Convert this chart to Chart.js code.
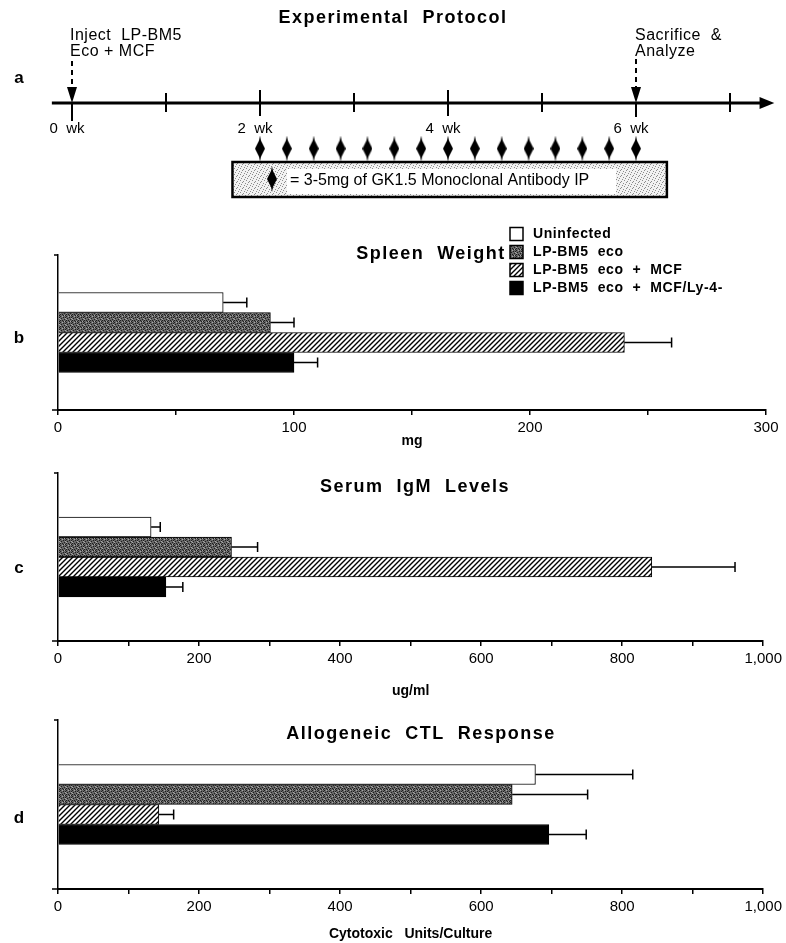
<!DOCTYPE html>
<html>
<head>
<meta charset="utf-8">
<script src="https://cdn.jsdelivr.net/npm/chart.js@4.4.0/dist/chart.umd.min.js"></script>
<style>
  body { margin: 0; background: #fff; overflow: hidden; }
  #fig { position: relative; width: 786px; height: 943px; }
  canvas { position: absolute; left: 0; }
</style>
</head>
<body>
<div id="fig">
  <canvas id="protocol" width="786" height="220" style="top:0"></canvas>
  <canvas id="spleen" width="786" height="235" style="top:220px"></canvas>
  <canvas id="igm" width="786" height="245" style="top:455px"></canvas>
  <canvas id="ctl" width="786" height="243" style="top:700px"></canvas>
</div>
<script>
// groups shown in every panel
const groups = ["Uninfected", "LP-BM5  eco", "LP-BM5  eco  +  MCF", "LP-BM5  eco  +  MCF/Ly-4-"];

// b: spleen weight (mg)
const spleenWeight = [70, 90, 240, 100];
const spleenErr = [10, 10, 20, 10];
const spleenTickLabels = [0, 100, 200, 300];

// c: serum IgM (ug/ml)
const igmLevel = [132, 246, 842, 153];
const igmErr = [13, 37, 118, 24];
const igmTickLabels = [0, 200, 400, 600, 800, 1000];

// d: allogeneic CTL response (cytotoxic units / culture)
const ctlResponse = [677, 644, 143, 696];
const ctlErr = [138, 107, 21, 53];
const ctlTickLabels = [0, 200, 400, 600, 800, 1000];

// a: protocol timeline (days)
const weekTickDays = [0, 7, 14, 21, 28, 35, 42, 49];
const weekLabelDays = [0, 14, 28, 42];
const weekLabels = ["0  wk", "2  wk", "4  wk", "6  wk"];
const injectionDays = [14, 16, 18, 20, 22, 24, 26, 28, 30, 32, 34, 36, 38, 40, 42];

const FONT = '"Liberation Sans", Arial, Helvetica, sans-serif';
Chart.defaults.font.family = FONT;
Chart.defaults.color = '#000';

function makePattern(w, h, draw) {
  const c = document.createElement('canvas');
  c.width = w; c.height = h;
  const g = c.getContext('2d');
  draw(g);
  return g.createPattern(c, 'repeat');
}

// dark stipple for "eco"
const stippleDark = makePattern(6, 6, g => {
  g.fillStyle = '#666'; g.fillRect(0, 0, 6, 6);
  g.fillStyle = '#1e1e1e';
  [[0,0],[3,1],[1,2],[4,3],[2,4],[5,5],[0,4],[3,5],[5,1]].forEach(p => g.fillRect(p[0], p[1], 1, 1));
  g.fillStyle = '#a8a8a8';
  [[2,0],[5,2],[0,3],[4,5]].forEach(p => g.fillRect(p[0], p[1], 1, 1));
});
// diagonal hatch for "+ MCF"
const hatch = makePattern(5, 5, g => {
  g.fillStyle = '#fff'; g.fillRect(0, 0, 5, 5);
  g.strokeStyle = '#000'; g.lineWidth = 1.4;
  g.beginPath();
  g.moveTo(-1, 6); g.lineTo(6, -1);
  g.moveTo(-1, 1); g.lineTo(1, -1);
  g.moveTo(4, 6); g.lineTo(6, 4);
  g.stroke();
});
// light stipple for the antibody box
const stippleLight = makePattern(6, 6, g => {
  g.fillStyle = '#f2f2f2'; g.fillRect(0, 0, 6, 6);
  g.fillStyle = '#8c8c8c';
  [[0,0],[3,1],[5,3],[1,4],[4,5],[2,2]].forEach(p => g.fillRect(p[0], p[1], 1, 1));
});

const fills = ['#ffffff', stippleDark, hatch, '#000000'];

// diamond marker for injections
const diamond = document.createElement('canvas');
diamond.width = 10; diamond.height = 26;
(function () {
  const g = diamond.getContext('2d');
  g.fillStyle = '#000';
  g.beginPath();
  g.moveTo(5, 0); g.lineTo(6, 5); g.lineTo(10, 13); g.lineTo(6, 21);
  g.lineTo(5, 26); g.lineTo(4, 21); g.lineTo(0, 13); g.lineTo(4, 5);
  g.closePath(); g.fill();
})();

function text(ctx, str, x, y, font, align, spacing) {
  ctx.save();
  ctx.font = font;
  ctx.fillStyle = '#000';
  ctx.textAlign = align || 'left';
  ctx.textBaseline = 'middle';
  ctx.letterSpacing = spacing || '0px';
  ctx.fillText(str, x, y);
  ctx.restore();
}

// ---------- panel a ----------
const protocolDraw = {
  id: 'protocolDraw',
  beforeDatasetsDraw(chart) {
    const ctx = chart.ctx;
    const px = d => chart.scales.x.getPixelForValue(d);
    const ty = chart.scales.y.getPixelForValue(1);

    text(ctx, 'Experimental  Protocol', 393, 18, 'bold 18px ' + FONT, 'center', '1.5px');
    text(ctx, 'a', 19, 78, 'bold 17px ' + FONT, 'center');
    text(ctx, 'Inject  LP-BM5', px(0) - 2, 36, '16px ' + FONT, 'left', '0.5px');
    text(ctx, 'Eco + MCF', px(0) - 2, 52, '16px ' + FONT, 'left', '0.5px');
    text(ctx, 'Sacrifice  &', px(42) - 1, 36, '16px ' + FONT, 'left', '0.5px');
    text(ctx, 'Analyze', px(42) - 1, 52, '16px ' + FONT, 'left', '0.5px');

    ctx.save();
    ctx.strokeStyle = '#000';
    ctx.fillStyle = '#000';
    // main time axis
    ctx.lineWidth = 3;
    ctx.beginPath();
    ctx.moveTo(px(-1.5), ty); ctx.lineTo(px(51.5), ty);
    ctx.stroke();
    ctx.beginPath();
    ctx.moveTo(px(51.2), ty - 6); ctx.lineTo(px(52.3), ty); ctx.lineTo(px(51.2), ty + 6);
    ctx.closePath(); ctx.fill();

    // week ticks
    ctx.lineWidth = 2;
    weekTickDays.forEach(d => {
      let up = 10, down = 9;
      if (d === 14 || d === 28) { up = 13; down = 13; }
      if (d === 0) { up = 0; down = 18; }
      if (d === 42) { up = 0; down = 14; }
      ctx.beginPath();
      ctx.moveTo(px(d), ty - up); ctx.lineTo(px(d), ty + down);
      ctx.stroke();
    });
    weekLabelDays.forEach((d, i) => {
      text(ctx, weekLabels[i], px(d) - 5, 129, '15px ' + FONT, 'center');
    });

    // dashed event arrows
    [[0, 61], [42, 59]].forEach(([d, y0]) => {
      const x = px(d);
      ctx.setLineDash([5, 4]);
      ctx.lineWidth = 2;
      ctx.beginPath(); ctx.moveTo(x, y0); ctx.lineTo(x, 88); ctx.stroke();
      ctx.setLineDash([]);
      ctx.beginPath();
      ctx.moveTo(x - 5, 87); ctx.lineTo(x + 5, 87); ctx.lineTo(x, ty);
      ctx.closePath(); ctx.fill();
    });

    // antibody key box
    const bx0 = px(11.95), bx1 = px(44.3);
    ctx.fillStyle = stippleLight;
    ctx.fillRect(bx0, 162, bx1 - bx0, 35);
    ctx.fillStyle = '#fff';
    ctx.fillRect(287, 169, 329, 25);
    ctx.lineWidth = 2.5;
    ctx.strokeRect(bx0, 162, bx1 - bx0, 35);
    ctx.drawImage(diamond, 267, 166);
    ctx.restore();
    text(ctx, '= 3-5mg of GK1.5 Monoclonal Antibody IP', 290, 181, '16px ' + FONT, 'left');
  }
};

new Chart(document.getElementById('protocol'), {
  type: 'scatter',
  data: {
    datasets: [{
      label: 'GK1.5 injections',
      data: injectionDays.map(d => ({ x: d, y: 0.2 })),
      pointStyle: diamond,
      pointRadius: 5,
      clip: false
    }]
  },
  options: {
    responsive: false,
    animation: false,
    events: [],
    layout: { padding: { left: 72, right: 150, top: 103, bottom: 60 } },
    scales: {
      x: { type: 'linear', min: 0, max: 42, display: false },
      y: { type: 'linear', min: 0, max: 1, display: false }
    },
    plugins: { legend: { display: false }, tooltip: { enabled: false } }
  },
  plugins: [protocolDraw]
});

// ---------- bar panels ----------
const errorBars = {
  id: 'errorBars',
  afterDatasetsDraw(chart, args, opts) {
    const ctx = chart.ctx, xs = chart.scales.x;
    ctx.save();
    ctx.strokeStyle = '#000';
    ctx.lineWidth = 1.5;
    chart.data.datasets.forEach((ds, i) => {
      const bar = chart.getDatasetMeta(i).data[0];
      const xe = xs.getPixelForValue(ds.data[0] + opts.values[i]);
      ctx.beginPath();
      ctx.moveTo(bar.x, bar.y); ctx.lineTo(xe, bar.y);
      ctx.moveTo(xe, bar.y - 5); ctx.lineTo(xe, bar.y + 5);
      ctx.stroke();
    });
    ctx.restore();
  }
};

const panelDecor = {
  id: 'panelDecor',
  afterDraw(chart, args, opts) {
    const ctx = chart.ctx, a = chart.chartArea;
    text(ctx, opts.title, opts.titleX, opts.titleY, 'bold 18px ' + FONT, 'center', '1.5px');
    text(ctx, opts.letter, 19, opts.letterY, 'bold 17px ' + FONT, 'center');
    ctx.save();
    ctx.strokeStyle = '#000';
    ctx.lineWidth = 1.5;
    ctx.beginPath();
    ctx.moveTo(a.left - 4, a.top); ctx.lineTo(a.left, a.top);
    ctx.moveTo(a.left - 6, a.bottom); ctx.lineTo(a.left, a.bottom);
    ctx.stroke();
    if (opts.legend) {
      chart.data.datasets.forEach((ds, i) => {
        const y = 14 + i * 18;
        ctx.fillStyle = ds.backgroundColor;
        ctx.fillRect(510, y - 6.5, 13, 13);
        ctx.strokeRect(510, y - 6.5, 13, 13);
        text(ctx, ds.label, 533, y, 'bold 14px ' + FONT, 'left', '0.6px');
      });
    }
    ctx.restore();
  }
};

function barPanel(id, values, errs, tickLabels, cfg) {
  return new Chart(document.getElementById(id), {
    type: 'bar',
    data: {
      labels: [''],
      datasets: groups.map((g, i) => ({
        label: g,
        data: [values[i]],
        backgroundColor: fills[i],
        borderColor: '#000',
        borderWidth: 1,
        barThickness: 20
      }))
    },
    options: {
      indexAxis: 'y',
      responsive: false,
      animation: false,
      events: [],
      layout: { padding: { left: 58, right: 20, top: cfg.top, bottom: 0 } },
      scales: {
        x: {
          type: 'linear', min: 0, max: cfg.max,
          ticks: {
            stepSize: cfg.step, autoSkip: false, maxRotation: 0, padding: 4,
            color: '#000', font: { size: 15 },
            callback: v => tickLabels.includes(v) ? v.toLocaleString('en-US') : ''
          },
          grid: { drawOnChartArea: false, color: '#000', lineWidth: 1.5, tickLength: 5 },
          border: { color: '#000', width: 2 },
          title: {
            display: true, text: cfg.unit, color: '#000',
            font: { size: 14, weight: 'bold' },
            padding: { top: 0, bottom: cfg.unitPad }
          },
          afterFit: s => { s.height = cfg.axisH; }
        },
        y: {
          grid: { display: false },
          ticks: { display: false },
          border: { color: '#000', width: 1.5 },
          afterFit: s => { s.width = 0; }
        }
      },
      plugins: {
        legend: { display: false },
        tooltip: { enabled: false },
        errorBars: { values: errs },
        panelDecor: cfg.decor
      }
    },
    plugins: [errorBars, panelDecor]
  });
}

barPanel('spleen', spleenWeight, spleenErr, spleenTickLabels, {
  max: 300, step: 50, top: 35, axisH: 45, unit: 'mg', unitPad: 5,
  decor: { title: 'Spleen  Weight', titleX: 431, titleY: 34, letter: 'b', letterY: 118, legend: true }
});

barPanel('igm', igmLevel, igmErr, igmTickLabels, {
  max: 1000, step: 100, top: 18, axisH: 59, unit: 'ug/ml', unitPad: 0,
  decor: { title: 'Serum  IgM  Levels', titleX: 415, titleY: 32, letter: 'c', letterY: 113, legend: false }
});

barPanel('ctl', ctlResponse, ctlErr, ctlTickLabels, {
  max: 1000, step: 100, top: 20, axisH: 54, unit: 'Cytotoxic   Units/Culture', unitPad: 0,
  decor: { title: 'Allogeneic  CTL  Response', titleX: 421, titleY: 34, letter: 'd', letterY: 118, legend: false }
});
</script>
</body>
</html>
